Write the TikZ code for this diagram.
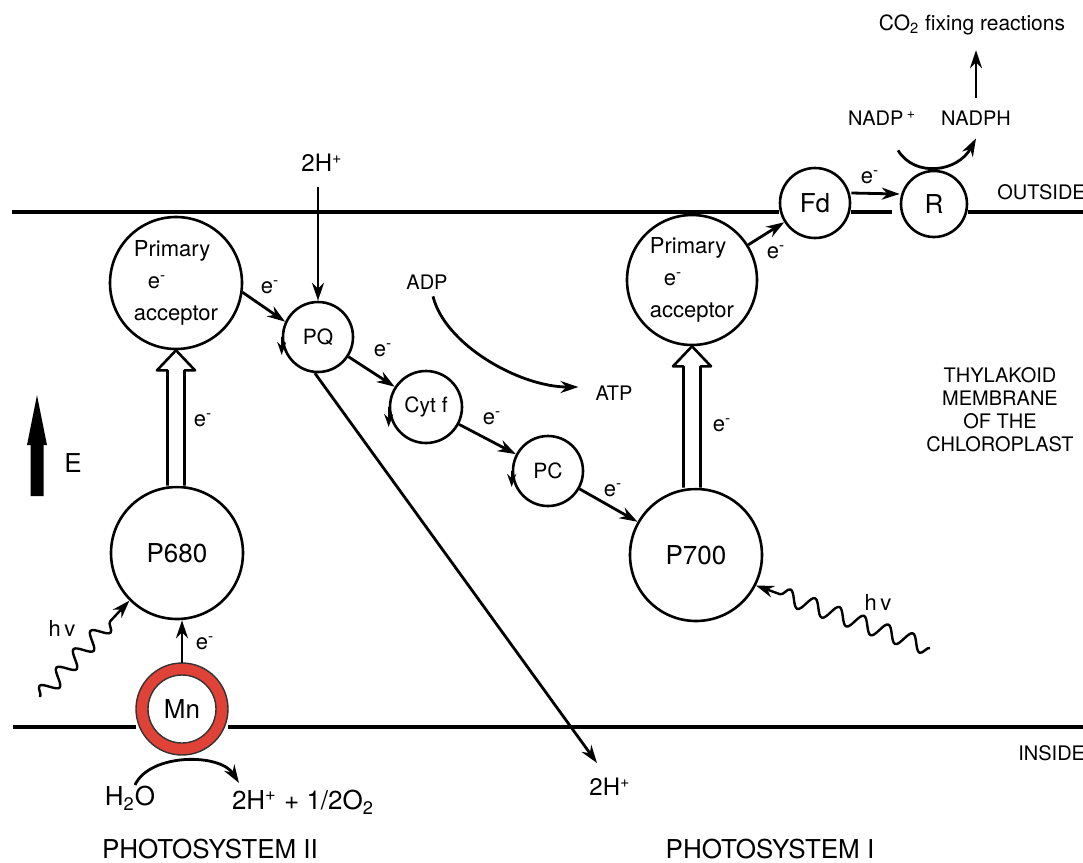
\documentclass[tikz,border=0pt]{standalone}
\usepackage{fontspec}
\setmainfont{TeX Gyre Heros}
\usetikzlibrary{arrows.meta,calc,decorations.pathmorphing}
\definecolor{mnred}{RGB}{224,66,56}
\newcommand{\eminus}{e\textsuperscript{-}}

\begin{document}
\begin{tikzpicture}[x=0.5pt, y=-0.5pt, line join=round, >={Stealth[length=9pt,width=6pt]},
    circ/.style={circle, draw, line width=1.3pt, inner sep=0pt},
    conn/.style={->, line width=1.4pt},
    cyc/.style={-{Stealth[length=6.5pt,width=4.5pt]}, line width=1.2pt},
    memb/.style={line width=1.6pt},
    hollow/.style={line width=1.3pt, fill=white},
    wave/.style={->, line width=1.2pt, decorate, decoration={snake, amplitude=4pt, segment length=12.5pt, post length=8pt}},
    big/.style={font=\fontsize{13}{15}\selectfont},
    mid/.style={font=\fontsize{11}{16}\selectfont},
    lab/.style={font=\fontsize{10.5}{12}\selectfont},
    small/.style={font=\fontsize{10}{11.5}\selectfont}]
    \useasboundingbox (0,0) rectangle (1083,863);
    \path
    (12,212) coordinate (topL)
    (1083,212) coordinate (topR)
    (13,727) coordinate (botL)
    (1083,727) coordinate (botR)
    (318,187) coordinate (hin)
    (597,763) coordinate (hend)
    (40,697) coordinate (wII)
    (930,648) coordinate (wI)
    ;

    % carriers
    \node[circ, minimum size=66pt, align=left, mid] (accII) at (176,283) {Primary\\\hspace*{7pt}\eminus\\acceptor};
    \node[circ, minimum size=65pt, align=left, mid] (accI) at (692,280) {Primary\\\hspace*{7pt}\eminus\\acceptor};
    \node[circ, minimum size=35pt, lab] (PQ) at (318,337) {PQ};
    \node[circ, minimum size=36pt, lab] (Cytf) at (426,407) {Cyt f};
    \node[circ, minimum size=35pt, lab] (PC) at (548,471) {PC};
    \node[circ, minimum size=66pt, big] (P680) at (177,553) {P680};
    \node[circ, minimum size=66pt, big] (P700) at (696,555) {P700};
    \node[circ, minimum size=35pt, big] (Fd) at (815,203) {Fd};
    \node[circ, minimum size=33pt, big] (R) at (934,204) {R};
    \node[circle, draw=mnred, line width=6pt, minimum size=40pt, inner sep=0pt, big] (Mn) at (182,709) {Mn};
    \draw[line width=0.7pt, black!80] (Mn) circle[radius=46] (Mn) circle[radius=34];

    % membrane
    \draw[memb] (topL) -- (Fd.west |- topL) (Fd.east |- topL) -- ([xshift=-4pt]R.west |- topL) (R.east |- topL) -- (topR);
    \draw[memb] (botL) -- (Mn.west |- botL) (Mn.east |- botL) -- (botR);

    % texts
    \node[font=\fontsize{12}{14}\selectfont] (h2top) at (322,163) {2H\textsuperscript{+}};
    \node[font=\fontsize{12}{14}\selectfont] (h2bot) at (610,787) {2H\textsuperscript{+}};
    \node[small] (ADP) at (427,282) {ADP};
    \node[small] (ATP) at (614,393) {ATP};
    \node[small] (nadp) at (882,118) {NADP\,\textsuperscript{+}};
    \node[small] (nadph) at (976,118) {NADPH};
    \node[lab] (co2) at (972,25) {CO\textsubscript{2} fixing reactions};
    \node[small, anchor=west, inner sep=0pt] (outside) at (997,192) {OUTSIDE};
    \node[small, anchor=west, inner sep=0pt] (inside) at (1018,753) {INSIDE};
    \node[small, align=center] (thyl) at (1000,410) {THYLAKOID\\MEMBRANE\\OF THE\\CHLOROPLAST};
    \node[big] (Elab) at (73,463) {E};
    \node[big] (h2o) at (130,798) {H\textsubscript{2}O};
    \node[big] (prod) at (303,802) {2H\textsuperscript{+} + 1/2O\textsubscript{2}};
    \node[big] (psII) at (210,849) {PHOTOSYSTEM II};
    \node[big] (psI) at (770,849) {PHOTOSYSTEM I};
    \node[mid] (hvII) at (62,628) {h\,v};
    \node[mid] (hvI) at (878,602) {h\,v};
    \foreach \n/\x/\y in {eA/270/287, eB/383/350, eC/492/418, eD/613/490, eE/203/420, eF/722/425, eG/776/252, eH/870/177, eI/205/643}{
        \node[font=\fontsize{11}{12}\selectfont] (\n) at (\x,\y) {\eminus};
    }

    % electron path
    \draw[conn] (hin) -- (PQ);
    \draw[conn] (accII.-8) -- (PQ.155);
    \draw[conn] (PQ) -- (Cytf);
    \draw[conn] (Cytf) -- (PC);
    \draw[conn] (PC) -- (P700);
    \draw[conn] (accI) -- (Fd);
    \draw[conn] ([yshift=5pt]Fd.east) -- ([yshift=5pt]R.west);
    \draw[conn] (PQ.265) -- (hend);
    \draw[conn] (Mn.north) -- (Mn.north |- P680.south);
    \foreach \c/\d in {PQ/9, Cytf/10, PC/8}{
        \draw[cyc] (\c.west) -- ([yshift=-\d pt]\c.west);
    }
    \foreach \a/\b in {accII/P680, accI/P700}{
        \draw[hollow] ($(\a.south |- \b.north)+(-8.5,0)$) -- ($(\a.south)+(-8.5,20)$) -- ($(\a.south)+(-19,20)$) -- (\a.south)
            -- ($(\a.south)+(19,20)$) -- ($(\a.south)+(8.5,20)$) -- ($(\a.south |- \b.north)+(8.5,0)$);
    }

    % light
    \draw[wave] (wII) -- (P680.225);
    \draw[wave, decoration={amplitude=4pt, segment length=13pt}] (wI) -- (P700.333);

    % side reactions
    \draw[conn] ([xshift=3pt]ADP.south) .. controls (445,345) and (520,387) .. ([xshift=-5pt,yshift=3pt]ATP.west);
    \draw[conn] ([xshift=8pt,yshift=-9pt]nadp.south) .. controls (915,178) and (958,172) .. ([yshift=-3pt]nadph.south);
    \draw[conn, shorten <=3pt, shorten >=4pt] (nadph.north) -- (nadph.north |- co2.south);
    \draw[conn] ([xshift=2.5pt,yshift=-3pt]h2o.north) .. controls (150,753) and (220,753) .. ([xshift=7pt]prod.north west);

    % energy axis
    \fill (37,395) -- (47,445) -- (43.5,445) -- (43.5,496) -- (30.5,496) -- (30.5,445) -- (27,445) -- cycle;
\end{tikzpicture}
\end{document}
